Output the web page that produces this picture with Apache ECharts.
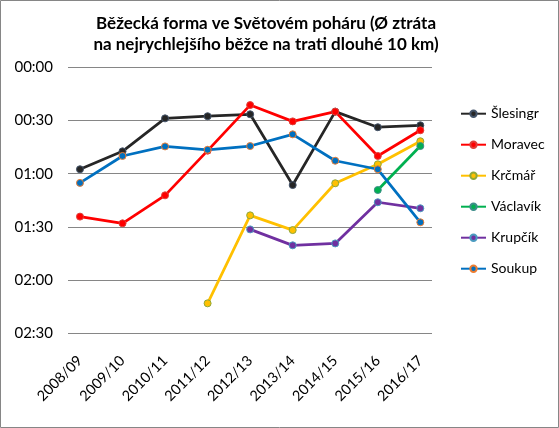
<!DOCTYPE html>
<html><head><meta charset="utf-8">
<script src="https://cdn.jsdelivr.net/npm/echarts@6/dist/echarts.min.js"></script>
<style>html,body{margin:0;padding:0;background:#fff}#c{width:559px;height:428px}</style>
</head><body><div id="c"></div>
<script>
// Values are time losses in seconds (displayed as mm:ss)
const categories = ['2008/09','2009/10','2010/11','2011/12','2012/13','2013/14','2014/15','2015/16','2016/17'];
const slesingr = [57.5, 47.4, 28.8, 27.6, 26.5, 66.4, 25.0, 33.8, 32.7];
const moravec  = [84.2, 88.0, 72.2, 47.0, 21.3, 30.5, 25.0, 50.0, 35.5];
const krcmar   = [null, null, null, 133.1, 83.5, 91.8, 65.4, 54.7, 41.7];
const vaclavik = [null, null, null, null, null, null, null, 69.2, 44.4];
const krupcik  = [null, null, null, null, 91.4, 100.4, 99.3, 76.1, 79.5];
const soukup   = [65.2, 50.0, 44.6, 46.5, 44.4, 37.8, 52.7, 57.5, 87.4];
const yTicks = ['00:00','00:30','01:00','01:30','02:00','02:30'];

const FONT = 'Lato';
function fmt(v){ return yTicks[Math.round(v/30)] || ''; }
function mk(name, data, color, border){
  return {
    name, type:'line', data, xAxisIndex:0, yAxisIndex:0,
    symbol:'circle', symbolSize:7, connectNulls:false,
    lineStyle:{color, width:2.75},
    itemStyle:{color, borderColor:border, borderWidth:1},
    emphasis:{disabled:true}
  };
}
const chart = echarts.init(document.getElementById('c'), null, {renderer:'canvas'});
chart.setOption({
  animation:false,
  backgroundColor:'#fff',
  textStyle:{fontFamily:FONT},
  title:{
    text:'Běžecká forma ve Světovém poháru (Ø ztráta\nna nejrychlejšího běžce na trati dlouhé 10 km)',
    left:261, top:8.5, textAlign:'center',
    textStyle:{fontFamily:FONT, fontSize:17, fontWeight:'bold', color:'#000', lineHeight:21}
  },
  legend:{
    orient:'vertical', left:455, top:101.7, itemWidth:25, itemHeight:8, itemGap:17,
    textStyle:{fontFamily:FONT, fontSize:14, color:'#000'},
    data:['Šlesingr','Moravec','Krčmář','Václavík','Krupčík','Soukup']
  },
  graphic:[{type:'rect', shape:{x:0.5,y:0.5,width:558,height:427}, style:{fill:null, stroke:'#868686', lineWidth:1}, silent:true, z:100}],
  grid:[
    {left:58.7, right:117.4, top:67.3, bottom:94.7},
    {left:68, right:127, top:67.3, bottom:94.7}
  ],
  xAxis:[
    {type:'category', gridIndex:0, data:categories, boundaryGap:true,
     axisLine:{show:false}, axisTick:{show:false}, splitLine:{show:false},
     axisLabel:{rotate:45, margin:25, fontFamily:FONT, fontSize:14.5, color:'#000', interval:0}},
    {type:'value', gridIndex:1, show:false}
  ],
  yAxis:[
    {type:'value', gridIndex:0, inverse:true, min:0, max:150, interval:30, show:false},
    {type:'value', gridIndex:1, inverse:true, min:0, max:150, interval:30,
     axisLine:{show:false}, axisTick:{show:false},
     splitLine:{show:true, lineStyle:{color:'#868686', width:1}},
     axisLabel:{formatter:fmt, margin:15, fontFamily:FONT, fontSize:15, color:'#000'}}
  ],
  series:[
    mk('Šlesingr', slesingr, '#262626', '#44546A'),
    mk('Moravec', moravec, '#FF0000', '#E0403A'),
    mk('Krčmář', krcmar, '#FFC000', '#8FA83A'),
    mk('Václavík', vaclavik, '#00B050', '#3E8E8A'),
    mk('Krupčík', krupcik, '#7030A0', '#4B9BC0'),
    mk('Soukup', soukup, '#0070C0', '#ED7D31')
  ]
});
</script></body></html>
